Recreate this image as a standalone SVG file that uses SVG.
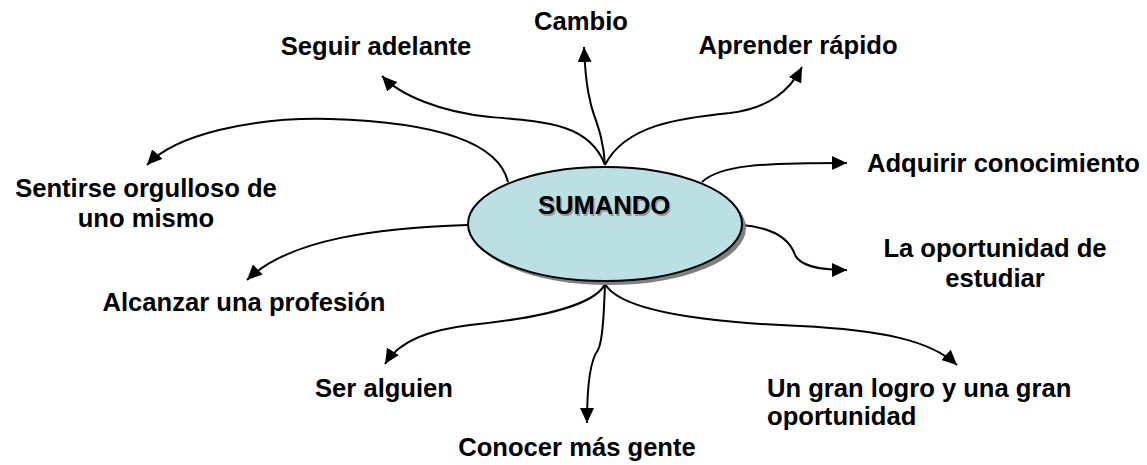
<svg xmlns="http://www.w3.org/2000/svg" width="1147" height="465" viewBox="0 0 1147 465">
<style>
.lbl{font-family:"Liberation Sans",Arial,sans-serif;font-weight:bold;font-size:25.6px;fill:#000}
.c{fill:none;stroke:#000;stroke-width:2;marker-end:url(#ah)}
</style>
<defs>
<marker id="ah" markerUnits="userSpaceOnUse" markerWidth="16" markerHeight="14" refX="15" refY="7" orient="auto">
<path d="M0,0 L15,7 L0,14 z" fill="#000"/>
</marker>
</defs>
<rect width="1147" height="465" fill="#fff"/>
<g id="connectors">
<path class="c" d="M605,165 C603,130 592,115 590,100 C586,85 585,70 584,47"/>
<path class="c" d="M605,165 C590,125 550,122 490,117 C440,112 400,95 382,76"/>
<path class="c" d="M605,165 C625,125 680,118 730,113 C770,108 790,90 802,67"/>
<path class="c" d="M508,182 C498,140 430,122 330,119 C250,117 175,135 147,165"/>
<path class="c" d="M702,182 C720,165 760,163 847,163"/>
<path class="c" d="M742,225 C775,228 790,240 795,255 C800,265 815,270 847,270"/>
<path class="c" d="M468,225 C380,228 290,238 247,280"/>
<path class="c" d="M605,284 C595,305 540,318 470,325 C430,330 400,340 385,364"/>
<path class="c" d="M605,284 C604,310 603,340 598,350 C590,360 587,390 587,423"/>
<path class="c" d="M605,284 C620,310 700,322 800,326 C880,330 930,340 957,365"/>
</g>
<g id="center">
<ellipse cx="609" cy="228" rx="137" ry="57" fill="#808080"/>
<ellipse cx="605" cy="224" rx="137" ry="57" fill="#bae0e4" stroke="#000" stroke-width="2"/>
<text class="lbl" x="605.5" y="215.5" text-anchor="middle" style="fill:#999">SUMANDO</text>
<text class="lbl" x="604" y="214" text-anchor="middle">SUMANDO</text>
</g>
<g id="n-cambio"><text class="lbl" x="581" y="30" text-anchor="middle">Cambio</text></g>
<g id="n-seguir"><text class="lbl" x="376" y="55" text-anchor="middle">Seguir adelante</text></g>
<g id="n-aprender"><text class="lbl" x="798" y="54" text-anchor="middle">Aprender rápido</text></g>
<g id="n-sentirse"><text class="lbl" x="146" y="197" text-anchor="middle">Sentirse orgulloso de</text><text class="lbl" x="146" y="227" text-anchor="middle">uno mismo</text></g>
<g id="n-adquirir"><text class="lbl" x="867" y="172">Adquirir conocimiento</text></g>
<g id="n-estudiar"><text class="lbl" x="995" y="257" text-anchor="middle">La oportunidad de</text><text class="lbl" x="995" y="287" text-anchor="middle">estudiar</text></g>
<g id="n-alcanzar"><text class="lbl" x="244" y="311" text-anchor="middle">Alcanzar una profesión</text></g>
<g id="n-ser"><text class="lbl" x="384" y="397" text-anchor="middle">Ser alguien</text></g>
<g id="n-conocer"><text class="lbl" x="577" y="456" text-anchor="middle">Conocer más gente</text></g>
<g id="n-logro"><text class="lbl" x="767" y="397">Un gran logro y una gran</text><text class="lbl" x="767" y="425">oportunidad</text></g>
</svg>
